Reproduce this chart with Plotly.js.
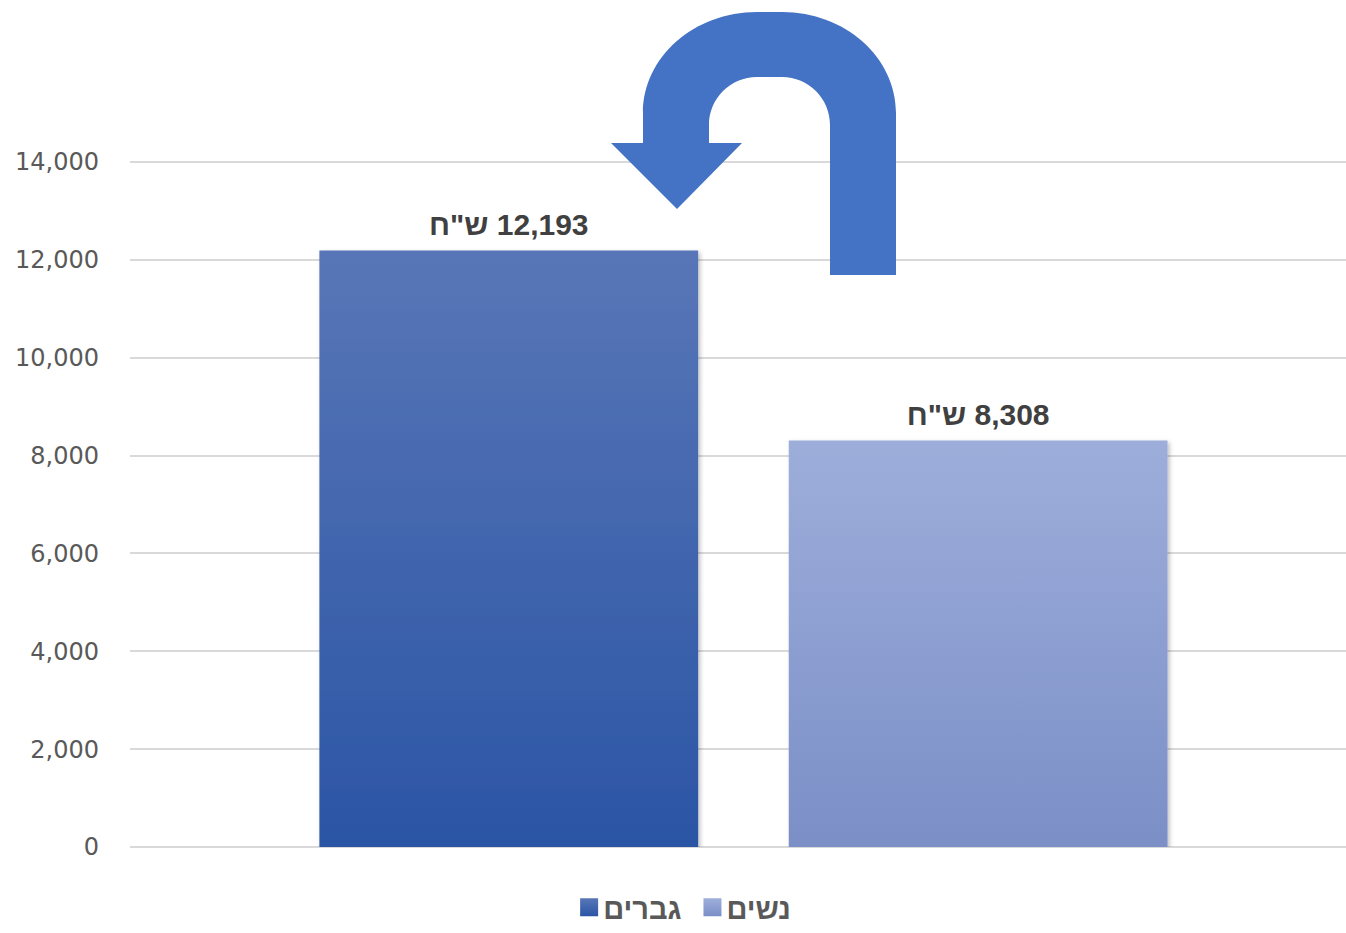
<!DOCTYPE html>
<html lang="he">
<head>
<meta charset="utf-8">
<script src="https://cdn.plot.ly/plotly-3.0.1.min.js"></script>
<style>
html,body{margin:0;padding:0;background:#fff;}
#chart{width:1346px;height:933px;}
</style>
</head>
<body>
<div id="chart"></div>
<script>
// ---- data ----
const category = ['שכר'];
const seriesNames = ['גברים', 'נשים'];
const menValues = [12193];
const womenValues = [8308];
const tickValues = [0, 2000, 4000, 6000, 8000, 10000, 12000, 14000];
const tickLabels = ['0', '2,000', '4,000', '6,000', '8,000', '10,000', '12,000', '14,000'];
const currencyLabel = 'ש"ח';

// ---- styles ----
const menColor = '#3563b5';
const womenColor = '#8fa0d6';
const gradients = [
  {id: 'gMen', top: '#5876b7', bottom: '#2b55a5'},
  {id: 'gWomen', top: '#9eaedb', bottom: '#7b8fc7'}
];

const W = 1346, H = 933;
const mL = 130, mR = 0, mT = 0, mB = 86;
const plotW = W - mL - mR, plotH = H - mT - mB;

function px(x) { return (x - mL) / plotW; }
function py(y) { return (H - mB - y) / plotH; }

// U-turn arrow (decoration) — pixel outline converted to paper coordinates
const K = 0.5523;
function arrowPath() {
  const pts = [];
  const M = (x, y) => pts.push('M' + px(x) + ',' + py(y));
  const L = (x, y) => pts.push('L' + px(x) + ',' + py(y));
  const C = (x1, y1, x2, y2, x, y) => pts.push('C' + px(x1) + ',' + py(y1) + ' ' + px(x2) + ',' + py(y2) + ' ' + px(x) + ',' + py(y));
  const ri = 48;
  const rox = 114, roy = 101;
  M(830, 275);
  L(830, 77 + ri);
  C(830, 77 + ri - K * ri, 782 + K * ri, 77, 782, 77);
  L(757, 77);
  C(757 - K * ri, 77, 709, 77 + ri - K * ri, 709, 77 + ri);
  L(709, 143);
  L(742, 143);
  L(677, 209);
  L(611, 143);
  L(643, 143);
  L(643, 12 + roy);
  C(643, 12 + roy - K * roy, 757 - K * rox, 12, 757, 12);
  L(782, 12);
  C(782 + K * rox, 12, 896, 12 + roy - K * roy, 896, 12 + roy);
  L(896, 275);
  pts.push('Z');
  return pts.join(' ');
}

const labelFont = {family: 'Liberation Sans, Arial, sans-serif', size: 30, color: '#404040', weight: 'bold'};

const traces = [
  {
    type: 'bar', name: seriesNames[0], x: category, y: menValues,
    marker: {color: menColor, line: {width: 0}},
    text: menValues.map(v => currencyLabel + '\u200E ' + v.toLocaleString('en-US')),
    textposition: 'outside', cliponaxis: false, textfont: labelFont,
    hoverinfo: 'skip'
  },
  {
    type: 'bar', name: seriesNames[1], x: category, y: womenValues,
    marker: {color: womenColor, line: {width: 0}},
    text: womenValues.map(v => currencyLabel + '\u200E ' + v.toLocaleString('en-US')),
    textposition: 'outside', cliponaxis: false, textfont: labelFont,
    hoverinfo: 'skip'
  }
];

const layout = {
  width: W, height: H,
  margin: {l: mL, r: mR, t: mT, b: mB, pad: 0, autoexpand: false},
  paper_bgcolor: '#ffffff', plot_bgcolor: '#ffffff',
  barmode: 'group', bargap: 0.228, bargroupgap: 0.193,
  showlegend: true,
  legend: {
    orientation: 'h', x: 0.452, xanchor: 'center', xref: 'paper',
    y: 0, yanchor: 'bottom', yref: 'container',
    font: {family: 'Liberation Sans, Arial, sans-serif', size: 29, color: '#595959', weight: 'bold'},
    itemwidth: 30, tracegroupgap: 0, borderwidth: 0
  },
  xaxis: {
    type: 'category', range: [-0.5045, 0.4955],
    showticklabels: false, showgrid: false, zeroline: false, showline: false, ticks: ''
  },
  yaxis: {
    range: [0, plotH / 48.93 * 1000],
    tickvals: tickValues, ticktext: tickLabels,
    showgrid: true, gridcolor: '#d9d9d9', gridwidth: 2,
    zeroline: true, zerolinecolor: '#d9d9d9', zerolinewidth: 2,
    showline: false, ticks: '', ticklabelstandoff: 30,
    tickfont: {family: 'DejaVu Sans, sans-serif', size: 24, color: '#595959'}
  },
  shapes: [
    {type: 'path', xref: 'paper', yref: 'paper', path: arrowPath(),
     fillcolor: '#4472c4', line: {width: 0}, layer: 'above'}
  ]
};

Plotly.newPlot('chart', traces, layout, {displayModeBar: false, staticPlot: true}).then(function (gd) {
  const svg = gd.querySelector('svg.main-svg');
  const ns = 'http://www.w3.org/2000/svg';
  let defs = svg.querySelector('defs');
  if (!defs) { defs = document.createElementNS(ns, 'defs'); svg.insertBefore(defs, svg.firstChild); }
  gradients.forEach(function (g) {
    const lg = document.createElementNS(ns, 'linearGradient');
    lg.setAttribute('id', g.id);
    lg.setAttribute('x1', '0'); lg.setAttribute('y1', '0');
    lg.setAttribute('x2', '0'); lg.setAttribute('y2', '1');
    const s1 = document.createElementNS(ns, 'stop');
    s1.setAttribute('offset', '0'); s1.setAttribute('stop-color', g.top);
    const s2 = document.createElementNS(ns, 'stop');
    s2.setAttribute('offset', '1'); s2.setAttribute('stop-color', g.bottom);
    lg.appendChild(s1); lg.appendChild(s2);
    defs.appendChild(lg);
  });
  const flt = document.createElementNS(ns, 'filter');
  flt.setAttribute('id', 'barShadow');
  flt.setAttribute('x', '-5%'); flt.setAttribute('y', '-5%');
  flt.setAttribute('width', '110%'); flt.setAttribute('height', '110%');
  flt.innerHTML = '<feDropShadow dx="2" dy="2" stdDeviation="2" flood-color="#000" flood-opacity="0.25"/>';
  defs.appendChild(flt);
  const barTraces = gd.querySelectorAll('.barlayer .trace');
  barTraces.forEach(function (t, i) {
    t.querySelectorAll('path').forEach(function (p) {
      p.style.fill = 'url(#' + gradients[i].id + ')';
      p.setAttribute('filter', 'url(#barShadow)');
    });
    t.querySelectorAll('text.bartext').forEach(function (tx) {
      const tr = tx.getAttribute('transform') || '';
      tx.setAttribute('transform', 'translate(0,-6) ' + tr);
    });
  });
  // legend symbols: larger squares, closer to text, with gradient
  const legendTraces = gd.querySelectorAll('.legend .traces');
  legendTraces.forEach(function (t, i) {
    t.querySelectorAll('.legendpoints path').forEach(function (p) {
      p.setAttribute('transform', 'translate(26,0) scale(1.5)');
      p.style.fill = 'url(#' + gradients[i].id + ')';
      p.style.stroke = 'none';
    });
  });
});
</script>
</body>
</html>
